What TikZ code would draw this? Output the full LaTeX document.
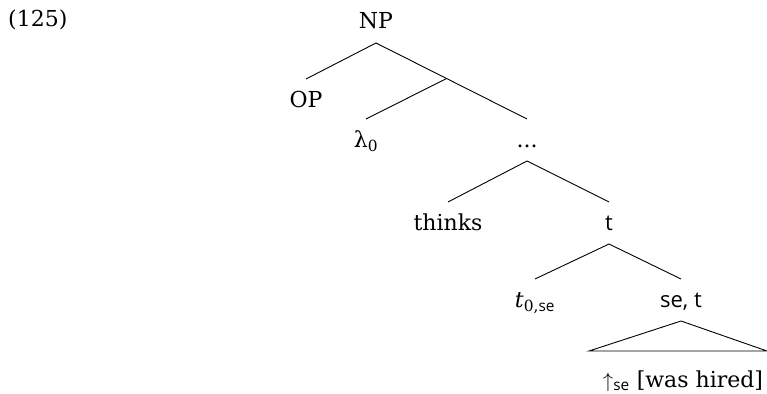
\documentclass[tikz,border=0pt]{standalone}
\usepackage{fontspec}
\setmainfont{DejaVu Serif}
\newfontfamily\sansf{Open Sans}
\usetikzlibrary{calc}
\begin{document}
\begin{tikzpicture}[x=1pt,y=-1pt,
  lab/.style={inner sep=0pt,outer sep=0pt,anchor=base,text height=28pt,text depth=14pt,font=\fontsize{22}{26}\selectfont},
  br/.style={line width=0.9pt}]
\useasboundingbox (0,0) rectangle (767,393);
\node[inner sep=0pt,anchor=base west,font=\fontsize{22}{26}\selectfont] (ex) at (8,27) {(125)};
\node[lab] (np) at (376,29) {NP};
\node[lab] (op) at (306,107) {OP};
\node[lab] (lam) at (366,147) {λ\textsubscript{0}};
\node[lab] (dots) at (527,147) {...};
\node[lab] (thinks) at (448,230) {thinks};
\node[lab] (t) at (609,230) {\sansf t};
\node[lab] (t0) at (535,307) {\textit{t}\textsubscript{0,\sansf se}};
\node[lab] (set) at (681,307) {\sansf se, t};
\node[lab,text height=36pt] (hired) at (683,387) {$\uparrow$\textsubscript{\sansf se} [was hired]};
\coordinate (j) at ($(np.south)!0.467!(dots.north)$);
\coordinate (bl) at (589,351);
\coordinate (brr) at (767,351);
\draw[br] (np.south) -- (op.north);
\draw[br] (np.south) -- (dots.north);
\draw[br] (j) -- (lam.north);
\draw[br] (dots.south) -- (thinks.north);
\draw[br] (dots.south) -- (t.north);
\draw[br] (t.south) -- (t0.north);
\draw[br] (t.south) -- (set.north);
\draw[br] (set.south) -- (bl) -- (brr) -- cycle;
\end{tikzpicture}
\end{document}
